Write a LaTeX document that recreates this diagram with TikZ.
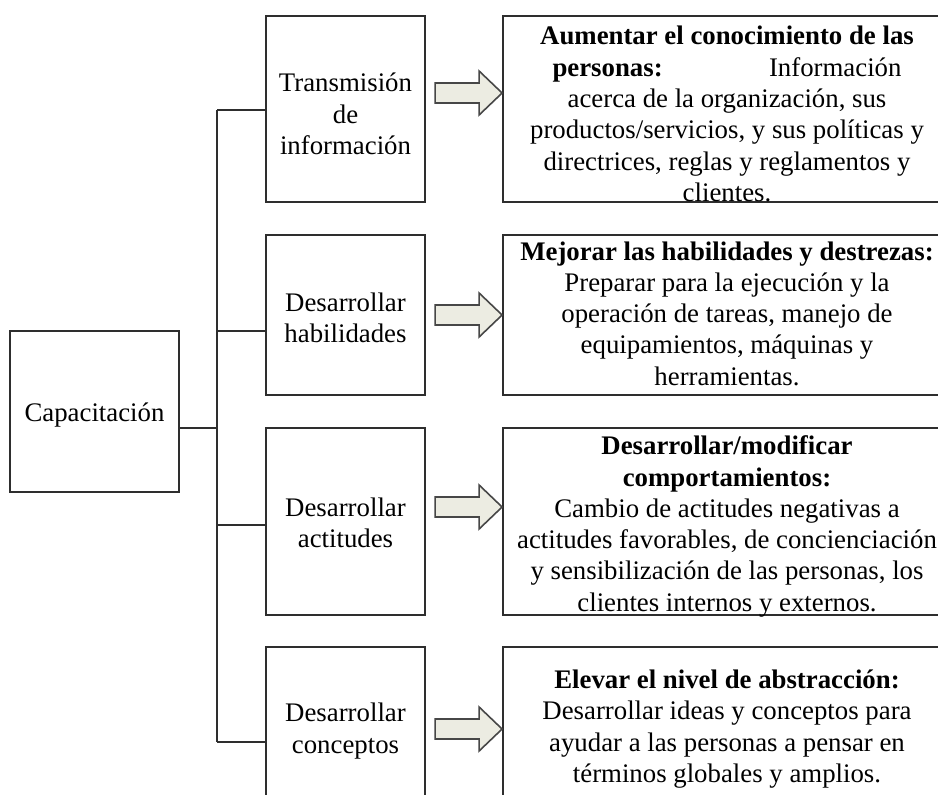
\documentclass[tikz,border=0pt]{standalone}
\usepackage{fontspec}
\setmainfont{Liberation Serif}
\begin{document}
\begin{tikzpicture}[x=1pt,y=-1pt,
  txt/.style={font=\fontsize{26.8}{31.3}\selectfont, text=black, align=center, inner sep=0pt},
  box/.style={draw=black!82, line width=1.8pt, rectangle, inner sep=0pt},
  midbox/.style={box, minimum width=159pt},
  infobox/.style={box, minimum width=448pt},
  link/.style={draw=black!82, line width=1.8pt},
  arrowbody/.style={draw=black!72, line width=1.6pt, fill={rgb,255:red,236;green,236;blue,226}, line join=miter},
  barrow/.pic={\path[arrowbody] (-67,-10) -- (-23,-10) -- (-23,-22) -- (0,0) -- (-23,22) -- (-23,10) -- (-67,10) -- cycle;}
]
\fill[white] (0,0) rectangle (938,795);
\useasboundingbox (0,0) rectangle (938,795);

% frames
\node[box, minimum width=169pt, minimum height=161pt] (cap) at (94.5,411.5) {};
\node[midbox, minimum height=186pt] (m1) at (345.5,109) {};
\node[midbox, minimum height=160pt] (m2) at (345.5,315) {};
\node[midbox, minimum height=187pt] (m3) at (345.5,521.5) {};
\node[midbox, minimum height=162pt] (m4) at (345.5,728) {};
\node[infobox, minimum height=186pt] (d1) at (727,109) {};
\node[infobox, minimum height=160pt] (d2) at (727,315) {};
\node[infobox, minimum height=187pt] (d3) at (727,521.5) {};
\node[infobox, minimum height=162pt] (d4) at (727,728) {};

% labels
\node[txt] (tcap) at ([yshift=-4pt]cap.center) {Capacitación};
\node[txt] (tm1) at ([yshift=-5pt]m1.center) {Transmisión\\de\\información};
\node[txt] (tm2) at ([yshift=-3pt]m2.center) {Desarrollar\\habilidades};
\node[txt] (tm3) at ([yshift=-1.5pt]m3.center) {Desarrollar\\actitudes};
\node[txt] (tm4) at ([yshift=-3pt]m4.center) {Desarrollar\\conceptos};

\node[txt] (td1) at ([yshift=-5pt]d1.center)
  {\textbf{Aumentar el conocimiento de las}\\
   \hbox to 349pt{\textbf{personas:}\hfill Información}\\
   acerca de la organización, sus\\
   productos/servicios, y sus políticas y\\
   directrices, reglas y reglamentos y\\
   clientes.};
\node[txt] (td2) at ([yshift=1.5pt]d2.center)
  {\textbf{Mejorar las habilidades y destrezas:}\\
   Preparar para la ejecución y la\\
   operación de tareas, manejo de\\
   equipamientos, máquinas y\\
   herramientas.};
\node[txt] (td3) at ([yshift=-5pt]d3.center)
  {\textbf{Desarrollar/modificar}\\
   \textbf{comportamientos:}\\
   Cambio de actitudes negativas a\\
   actitudes favorables, de concienciación\\
   y sensibilización de las personas, los\\
   clientes internos y externos.};
\node[txt] (td4) at ([yshift=-1pt]d4.center)
  {\textbf{Elevar el nivel de abstracción:}\\
   Desarrollar ideas y conceptos para\\
   ayudar a las personas a pensar en\\
   términos globales y amplios.};

% tree connectors
\coordinate (jc) at (217,428);
\coordinate (j1) at (217,110);
\coordinate (j2) at (217,331);
\coordinate (j3) at (217,525);
\coordinate (j4) at (217,742);
\path[link] (cap.east |- jc) -- (jc);
\path[link] (j1) -- (j4);
\path[link] (j1) -- (m1.west |- j1);
\path[link] (j2) -- (m2.west |- j2);
\path[link] (j3) -- (m3.west |- j3);
\path[link] (j4) -- (m4.west |- j4);

% block arrows into the descriptions
\pic at (d1.west |- 0,93) {barrow};
\pic at (d2.west |- 0,315) {barrow};
\pic at (d3.west |- 0,507) {barrow};
\pic at (d4.west |- 0,729) {barrow};
\end{tikzpicture}
\end{document}
